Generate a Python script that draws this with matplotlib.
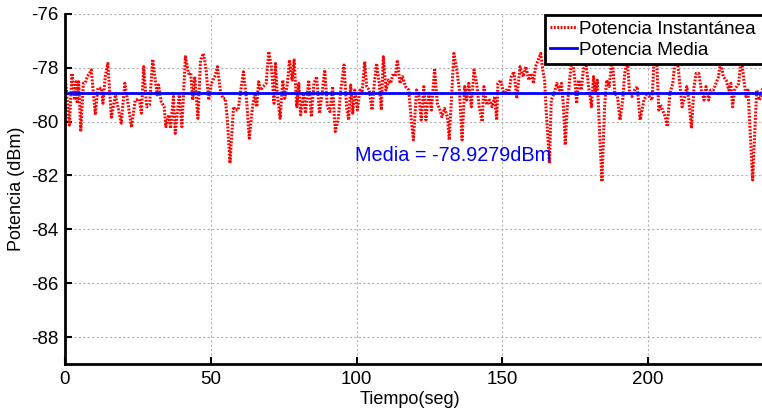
import matplotlib
matplotlib.use("Agg")
import matplotlib.pyplot as plt

plt.rcParams['font.family'] = ['Liberation Sans', 'DejaVu Sans']
plt.rcParams['axes.unicode_minus'] = False

# instantaneous power readings (seconds, dBm)
tiempo = [0.0, 1.5, 2.4, 3.3, 3.8, 4.2, 4.7, 5.4, 6.3, 7.0, 7.7, 8.4, 9.0, 10.4, 11.3, 12.5, 13.0, 13.8, 14.7, 15.9,
          17.3, 19.3, 20.5, 21.6, 22.8, 24.1, 25.5, 26.2, 27.0, 28.0, 29.0, 30.1, 31.6, 32.1, 33.0, 34.0, 34.6, 35.6, 36.2, 37.2,
          37.8, 39.2, 40.1, 41.3, 42.4, 43.1, 43.8, 44.5, 45.6, 46.5, 47.5, 48.4, 49.3, 50.2, 51.4, 52.3, 53.4, 54.2, 55.0, 55.7,
          56.6, 57.8, 58.4, 59.4, 60.0, 61.2, 62.3, 63.2, 64.2, 65.1, 65.8, 66.4, 67.1, 68.0, 69.0, 69.9, 70.8, 71.7, 72.2, 72.8,
          73.8, 74.7, 75.4, 76.3, 77.0, 77.9, 78.6, 79.5, 80.2, 80.8, 81.8, 82.5, 83.6, 84.5, 85.4, 86.3, 87.3, 88.2, 89.1, 90.0,
          90.9, 91.8, 92.7, 93.7, 94.6, 95.7, 96.6, 97.3, 98.0, 98.7, 99.4, 100.3, 101.2, 101.9, 102.8, 103.5, 104.4, 105.3, 106.2, 106.9,
          107.8, 108.5, 109.2, 110.1, 111.0, 111.7, 112.6, 113.3, 114.0, 114.9, 115.8, 116.8, 117.9, 118.8, 119.5, 120.6, 121.3, 122.2, 123.1, 123.8,
          124.8, 125.7, 126.8, 127.7, 128.6, 129.3, 130.2, 131.2, 131.8, 132.8, 133.4, 134.4, 135.3, 136.2, 137.1, 137.8, 138.5, 139.4, 140.3, 141.2,
          142.1, 143.1, 143.7, 144.7, 145.6, 146.5, 147.4, 148.1, 148.5, 149.5, 150.4, 151.3, 152.2, 153.1, 154.0, 155.0, 156.1, 157.2, 158.1, 159.1,
          160.0, 160.7, 161.4, 162.3, 163.2, 163.9, 164.5, 165.2, 166.2, 166.8, 167.8, 168.7, 169.6, 170.3, 171.0, 171.6, 172.3, 173.0, 173.9, 174.8,
          175.5, 176.2, 177.1, 177.8, 178.7, 179.6, 180.6, 181.3, 181.9, 182.6, 183.5, 184.2, 185.1, 185.8, 186.7, 187.7, 188.6, 189.5, 190.4, 191.3,
          192.0, 192.9, 193.6, 194.5, 195.4, 196.3, 197.3, 198.6, 199.5, 200.5, 201.4, 202.1, 203.0, 203.7, 204.3, 205.0, 205.9, 206.6, 207.5, 208.5,
          209.4, 210.3, 211.0, 211.7, 212.6, 213.3, 214.0, 214.9, 215.8, 216.5, 217.4, 218.3, 219.2, 219.9, 220.8, 221.5, 222.4, 223.3, 224.2, 224.9,
          225.8, 226.8, 227.7, 228.4, 229.0, 229.7, 230.4, 231.1, 232.0, 232.9, 233.6, 234.3, 235.0, 235.9, 236.6, 237.3, 238.2, 238.9, 240.0, 241.0,
          242.0, 243.0]
potencia = [-78.21, -80.13, -78.21, -79.20, -78.52, -79.32, -78.52, -80.37, -78.58, -78.55, -78.31, -78.21, -78.08, -79.75, -78.76, -78.76, -79.32, -78.33, -77.84, -79.84,
            -79.01, -80.06, -78.58, -79.32, -80.21, -79.20, -79.17, -79.69, -77.96, -79.45, -79.38, -77.69, -79.01, -78.64, -79.26, -79.45, -80.19, -79.75, -80.25, -79.07,
            -80.44, -79.01, -80.19, -77.59, -78.21, -78.18, -79.20, -78.33, -79.88, -77.71, -77.47, -78.08, -79.20, -78.58, -78.33, -77.96, -78.95, -79.14, -79.14, -79.94,
            -81.55, -79.45, -79.57, -79.57, -79.07, -78.15, -79.20, -80.62, -79.57, -78.95, -79.45, -78.52, -78.83, -78.70, -78.58, -77.40, -77.96, -79.32, -77.84, -78.95,
            -79.88, -78.46, -79.14, -78.58, -77.71, -78.46, -77.71, -79.45, -78.58, -79.75, -78.95, -79.69, -78.46, -79.82, -78.58, -78.33, -79.69, -78.95, -78.08, -79.45,
            -79.63, -78.70, -80.37, -79.94, -78.83, -77.90, -79.45, -79.94, -78.64, -79.69, -78.83, -79.57, -78.83, -78.95, -77.77, -78.70, -78.83, -79.57, -78.46, -77.84,
            -78.58, -79.57, -77.59, -78.83, -78.46, -78.58, -78.21, -78.33, -77.71, -78.58, -78.33, -78.70, -78.83, -79.94, -80.68, -78.83, -78.95, -79.94, -78.70, -79.94,
            -78.95, -79.57, -78.02, -79.32, -79.57, -79.82, -79.51, -79.82, -80.68, -78.70, -77.47, -78.08, -78.83, -80.68, -78.70, -79.20, -78.58, -79.45, -78.08, -78.58,
            -79.45, -80.00, -78.70, -79.38, -79.20, -79.45, -79.07, -79.94, -78.58, -78.46, -78.95, -78.83, -78.95, -78.33, -78.15, -79.14, -77.96, -78.33, -77.96, -78.46,
            -78.21, -78.58, -77.96, -77.71, -77.47, -78.08, -78.46, -79.82, -81.55, -79.20, -78.95, -78.58, -78.83, -78.58, -79.45, -80.87, -79.45, -78.58, -77.60, -78.33,
            -79.32, -78.46, -78.83, -78.08, -77.80, -78.70, -79.45, -78.33, -78.95, -78.46, -80.68, -82.23, -79.45, -78.46, -78.70, -77.60, -78.95, -79.07, -79.94, -79.20,
            -78.21, -77.70, -78.83, -79.07, -78.83, -78.70, -79.94, -79.20, -79.01, -79.07, -79.20, -77.60, -77.84, -79.57, -79.38, -79.57, -79.82, -80.19, -78.95, -78.58,
            -77.50, -77.96, -78.70, -79.45, -79.07, -78.70, -79.20, -80.25, -78.70, -78.21, -78.21, -78.83, -79.20, -78.70, -79.20, -78.83, -78.83, -78.58, -78.33, -77.70,
            -78.33, -78.46, -78.83, -78.58, -79.45, -78.83, -78.70, -78.58, -77.60, -78.46, -79.07, -78.83, -80.31, -82.17, -80.44, -78.83, -79.20, -78.95, -78.50, -79.20,
            -78.70, -79.00]
media = -78.9279

fig = plt.figure(figsize=(7.62, 4.08), dpi=100)
ax = fig.add_axes([0.0853, 0.108, 0.9564, 0.858])

ax.plot(tiempo, potencia, color='red', linestyle=(0, (0.6, 0.5)), linewidth=2.2, label='Potencia Instantánea')
ax.plot([0, 250], [media, media], color='blue', linewidth=2, label='Potencia Media')
ax.text(99.5, -81.25, 'Media = -78.9279dBm', color='blue', fontsize=14.3, va='center')

ax.set_xlim(0, 250)
ax.set_ylim(-89, -76)
ax.set_xticks([0, 50, 100, 150, 200])
ax.set_yticks([-88, -86, -84, -82, -80, -78, -76])
ax.grid(True, color='#b4b4b4', linestyle=(0, (2, 2)), linewidth=0.8)
ax.tick_params(direction='in', length=5, width=1.5, labelsize=13.5, pad=5)
for s in ['top', 'right']:
    ax.spines[s].set_visible(False)
for s in ['left', 'bottom']:
    ax.spines[s].set_linewidth(2)

ax.set_xlabel('Tiempo(seg)', fontsize=13)
ax.xaxis.set_label_coords(0.473, -0.078)
ax.set_ylabel('Potencia (dBm)', fontsize=13)
ax.yaxis.set_label_coords(-0.055, 0.5)

# legend box runs past the right edge, as in the cropped original
leg = ax.legend(loc='upper left', bbox_to_anchor=(0.715, 0.5, 0.3, 0.463), bbox_transform=fig.transFigure,
                mode='expand', fontsize=13.6, fancybox=False, framealpha=1, edgecolor='black', handlelength=1.4,
                handletextpad=0.15, borderpad=0.28, labelspacing=0.2, borderaxespad=0)
leg.get_frame().set_linewidth(2)
leg.set_zorder(10)

fig.savefig('out.png', dpi=100)
